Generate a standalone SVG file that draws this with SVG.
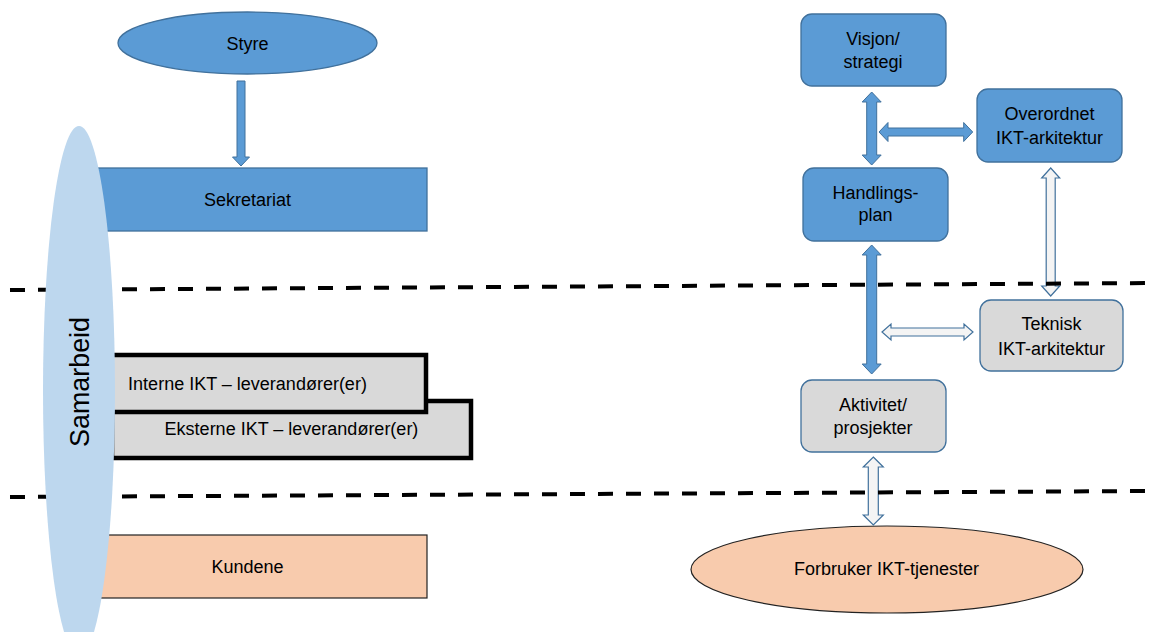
<svg xmlns="http://www.w3.org/2000/svg" width="1158" height="632" viewBox="0 0 1158 632">
<style>
text{font-family:"Liberation Sans",Arial,sans-serif;font-size:18px;fill:#000;text-anchor:middle}
.blue{fill:#5b9bd5;stroke:#41719c;stroke-width:1.3}
.gray{fill:#d9d9d9;stroke:#41719c;stroke-width:1.3}
.peach{fill:#f8cbad;stroke:#222;stroke-width:1.2}
.thick{fill:#d9d9d9;stroke:#000;stroke-width:4.5}
.arr{fill:#5b9bd5;stroke:#41719c;stroke-width:1}
.hol{fill:#f4f4f4;stroke:#41719c;stroke-width:1.2}
.dash{stroke:#000;stroke-width:4;stroke-dasharray:15 13;fill:none}
</style>
<rect width="1158" height="632" fill="#fff"/>
<g id="styre"><ellipse class="blue" cx="247.5" cy="43" rx="129.5" ry="31"/><text x="247.5" y="50">Styre</text></g>
<g id="sekretariat"><rect class="blue" x="68" y="168" width="359" height="63"/><text x="247.5" y="206">Sekretariat</text></g>
<g id="eksterne"><rect class="thick" x="112" y="401" width="359" height="57"/><text x="291.5" y="435">Eksterne IKT – leverandører(er)</text></g>
<g id="interne"><rect class="thick" x="68" y="355" width="358" height="57"/><text x="247.5" y="390">Interne IKT – leverandører(er)</text></g>
<g id="kundene"><rect class="peach" x="68" y="535" width="359" height="63"/><text x="247.5" y="573">Kundene</text></g>
<g id="visjon"><rect class="blue" x="801" y="14" width="145" height="72" rx="11"/><text x="873" y="45">Visjon/</text><text x="873" y="68">strategi</text></g>
<g id="overordnet"><rect class="blue" x="977" y="89" width="145" height="73" rx="11"/><text x="1049.5" y="119.5">Overordnet</text><text x="1049.5" y="144">IKT-arkitektur</text></g>
<g id="handlingsplan"><rect class="blue" x="803" y="168" width="145" height="73" rx="11"/><text x="875.5" y="199">Handlings-</text><text x="875.5" y="221">plan</text></g>
<g id="teknisk"><rect class="gray" x="980" y="300" width="143" height="71" rx="11"/><text x="1051.5" y="330">Teknisk</text><text x="1051.5" y="355">IKT-arkitektur</text></g>
<g id="aktivitet"><rect class="gray" x="801" y="380" width="145" height="72" rx="11"/><text x="873" y="411">Aktivitet/</text><text x="873" y="434">prosjekter</text></g>
<g id="forbruker"><ellipse class="peach" cx="887" cy="569.5" rx="196" ry="43.5"/><text x="886.5" y="575">Forbruker IKT-tjenester</text></g>
<g id="connectors">
<polygon class="arr" points="237,81 245,81 245,157 249.5,157 241,166 232.5,157 237,157"/>
<polygon class="arr" points="871.7,92 881.2,102 876.7,102 876.7,155 881.2,155 871.7,165 862.2,155 866.7,155 866.7,102 862.2,102"/>
<polygon class="arr" points="879,132 888,122.5 888,128 963.7,128 963.7,122.5 972.7,132 963.7,141.5 963.7,136 888,136 888,141.5"/>
<polygon class="arr" points="871.7,245 881.2,255 876.7,255 876.7,364 881.2,364 871.7,374 862.2,364 866.7,364 866.7,255 862.2,255"/>
<polygon class="hol" points="1050.7,168 1059.7,178 1055.2,178 1055.2,286 1059.7,286 1050.7,296 1041.7,286 1046.2,286 1046.2,178 1041.7,178"/>
<polygon class="hol" points="882,332 891,324 891,328 964,328 964,324 973,332 964,340 964,336 891,336 891,340"/>
<polygon class="hol" points="873.3,457 883.3,467 878.3,467 878.3,515 883.3,515 873.3,525 863.3,515 868.3,515 868.3,467 863.3,467"/>
</g>
<g id="dividers">
<line class="dash" x1="10" y1="290" x2="1152" y2="283"/>
<line class="dash" x1="10" y1="497" x2="1152" y2="491"/>
</g>
<g id="samarbeid"><ellipse cx="79" cy="391" rx="36" ry="265" fill="#bdd7ee"/><text transform="translate(89,382) rotate(-90)" style="font-size:28px" textLength="130" lengthAdjust="spacingAndGlyphs">Samarbeid</text></g>
</svg>
